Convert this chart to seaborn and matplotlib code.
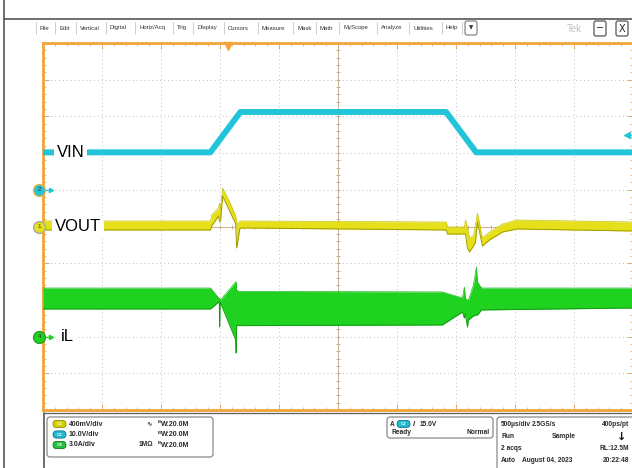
import numpy as np
import matplotlib
matplotlib.use('Agg')
import matplotlib.pyplot as plt
import seaborn as sns
from matplotlib.patches import FancyBboxPatch
from matplotlib.ticker import MultipleLocator

# ---- values ----
# time in microseconds (500 us/div, screen centre = 0)
vin_t = [-2500, -1082, -827, 916, 1171, 2500]
vin_v = [10.2, 10.2, 21.2, 21.2, 10.2, 10.2]          # V  (CH2, 10 V/div)

# VOUT envelope, mV around the channel offset (CH1, 400 mV/div)
vout_t = [-2500, -1080, -1071, -1012, -1003, -995, -978, -918, -867, -859, -850,
          -833, -816, 918, 927, 1071, 1080, 1097, 1114, 1148, 1165, 1182, 1224,
          1284, 1395, 1514, 2500]
vout_hi = [60, 60, 125, 202, 256, 180, 420, 267, 114, 49, 16, 60, 60, 49, -5, -5,
           71, -16, -125, -104, 16, 147, -125, -60, 27, 71, 49]
vout_lo = [-38, -38, 5, 114, 49, 71, 332, 169, 27, -234, -169, -27, -16, -38, -82,
           -82, -82, -234, -278, -213, -169, 49, -213, -147, -60, -27, -49]

# inductor current envelope, A (CH4, 3 A/div)
il_t = [-2500, -1080, -1012, -1006, -1003, -999, -995, -867, -863, -859, -842,
        884, 1054, 1071, 1080, 1097, 1105, 1148, 1173, 1182, 1216, 2500]
il_hi = [3.97, 3.97, 3.16, 3.12, 3.08, 3.08, 3.0, 4.47, 4.47, 3.81, 3.7,
         3.65, 3.16, 4.06, 3.08, 3.0, 3.0, 4.22, 5.69, 4.47, 3.97, 3.97]
il_lo = [2.26, 2.26, 2.83, 2.8, 0.79, 2.78, 2.75, -0.27, -1.34, 0.9, 0.9,
         0.95, 2.01, 1.52, 1.85, 0.79, 1.36, 1.69, 1.77, 1.77, 2.18, 2.34]

trig_t = -930        # horizontal trigger position, us
trig_level = 15.0    # V on CH2

# channel settings: scale per div, position in div
ch1_scale, ch1_pos = 400.0, 0.0
ch2_scale, ch2_pos = 10.0, 1.0
ch4_scale, ch4_pos = 3.0, -3.0

menu_items = ['File', 'Edit', 'Vertical', 'Digital', 'Horiz/Acq', 'Trig', 'Display',
              'Cursors', 'Measure', 'Mask', 'Math', 'MyScope', 'Analyze',
              'Utilities', 'Help']
menu_x = [40, 59, 80, 110, 139, 177, 197, 228, 262, 297, 320, 343, 381, 413, 446]

CYAN = '#22c4d8'
YELLOW = '#e6e01a'
GREEN = '#1fd21f'
ORANGE = '#f2a33a'

sns.set_style('white')
plt.rcParams['font.family'] = ['Liberation Sans', 'DejaVu Sans']

W, H = 632, 468
fig = plt.figure(figsize=(6.32, 4.68), dpi=100)

# overlay in pixel coordinates for the scope window chrome
ov = fig.add_axes([0, 0, 1, 1])
ov.set_xlim(0, W)
ov.set_ylim(H, 0)
ov.axis('off')

ov.plot([4, W], [19, 19], color='#555555', lw=1.2)
ov.plot([4, 4], [0, H], color='#555555', lw=1.2)
ov.plot([44, W], [413, 413], color='#666666', lw=1)
ov.plot([44, 44], [413, H], color='#555555', lw=1.2)

for name, x in zip(menu_items, menu_x):
    ov.text(x, 28, name, fontsize=4.3, color='#333333', va='center', ha='left')
    ov.plot([x - 4, x - 4], [22, 34], color='#c8c8c8', lw=0.6)
ov.plot([462, 462], [22, 34], color='#c8c8c8', lw=0.6)
ov.add_patch(FancyBboxPatch((465, 21), 12, 14, boxstyle='round,pad=0,rounding_size=2',
                            fc='white', ec='#777777', lw=0.8))
ov.text(471, 28, '▼', fontsize=4, ha='center', va='center', color='#333333',
        family='DejaVu Sans')
ov.text(567, 29, 'Tek', fontsize=7, color='#c0c0c0', va='center')
for bx, sym in [(594, '−'), (616, 'X')]:
    ov.add_patch(FancyBboxPatch((bx, 21), 12, 15, boxstyle='round,pad=0,rounding_size=2',
                                fc='white', ec='#555555', lw=0.9))
    ov.text(bx + 6, 28.5, sym, fontsize=7, ha='center', va='center', color='#222222',
            family='DejaVu Sans')

# ---- status panel ----
def badge(x, y, label, fc, ec):
    ov.add_patch(FancyBboxPatch((x, y - 3.6), 13, 7.2,
                                boxstyle='round,pad=0,rounding_size=3.6',
                                fc=fc, ec=ec, lw=0.6))
    ov.text(x + 6.5, y, label, fontsize=3.2, ha='center', va='center',
            color='white', weight='bold')

def stext(x, y, s, ha='left', size=4.8):
    ov.text(x, y, s, fontsize=size, ha=ha, va='center', weight='bold', color='#2a2a2a')

for (x0, y0, w, h) in [(47, 417, 166, 40), (387, 417, 106, 21), (497, 417, 145, 56)]:
    ov.add_patch(FancyBboxPatch((x0, y0), w, h, boxstyle='round,pad=0,rounding_size=3',
                                fc='white', ec='#8a8a8a', lw=0.9))

rows = [424, 434.5, 445]
chans = [('C1', '#d6d000', '#8f8a00', '400mV/div', '∿'),
         ('C2', '#22b8d0', '#137a8a', '10.0V/div', ''),
         ('C4', '#22c040', '#137a22', '3.0A/div', '1MΩ')]
for y, (c, fc, ec, sc, extra) in zip(rows, chans):
    badge(53, y, c, fc, ec)
    stext(69, y, sc, size=5)
    if extra:
        stext(146 if extra == '∿' else 139, y, extra, size=4.8)
    ov.text(158, y - 1.8, 'B', fontsize=3.2, ha='left', va='center', weight='bold',
            color='#2a2a2a')
    stext(161, y + 0.5, 'W:20.0M', size=5)

stext(390, 424, 'A')
badge(397, 424, 'C2', '#22b8d0', '#137a8a')
stext(413, 424, '/', size=6)
stext(420, 424, '{:.1f}V'.format(trig_level))
stext(391, 433, 'Ready')
stext(490, 433, 'Normal', ha='right')

stext(501, 424, '500µs/div')
stext(532, 424, '2.5GS/s')
stext(629, 424, '400ps/pt', ha='right')
stext(501, 436, 'Run')
stext(552, 436, 'Sample')
ov.text(622, 436.5, '↓', fontsize=8, ha='center', va='center', weight='bold',
        color='#111111', family='DejaVu Sans')
stext(501, 448, '2 acqs')
stext(629, 448, 'RL:12.5M', ha='right')
stext(501, 461, 'Auto')
stext(522, 461, 'August 04, 2023')
stext(629, 461, '20:22:48', ha='right')

# ---- graticule ----
ax = fig.add_axes([43 / W, 1 - 410 / H, 590 / W, 367 / H])
ax.set_zorder(2)
ax.set_facecolor('white')
ax.set_xlim(-2500, 2500)
ax.set_ylim(-5, 5)
ax.xaxis.set_major_locator(MultipleLocator(500))
ax.xaxis.set_minor_locator(MultipleLocator(100))
ax.yaxis.set_major_locator(MultipleLocator(1))
ax.yaxis.set_minor_locator(MultipleLocator(0.2))
ax.tick_params(which='both', direction='in', top=True, right=True, bottom=True,
               left=True, labelbottom=False, labelleft=False, color='#d9a060')
ax.tick_params(which='major', length=4, width=0.6)
ax.tick_params(which='minor', length=2, width=0.5)
ax.grid(which='major', ls=(0, (1, 3)), color='#c0c0c0', lw=0.7)
for s in ax.spines.values():
    s.set_color(ORANGE)
    s.set_linewidth(2)

ax.axvline(0, color='#c4a684', lw=0.6, zorder=1)
ax.axhline(0, color='#c4a684', lw=0.6, zorder=1)
ax.plot(np.arange(-2500, 2501, 100), np.zeros(51), ls='none', marker='|', ms=3,
        color='#c4a684', mew=0.6, zorder=1)
ax.plot(np.zeros(51), np.arange(-5, 5.01, 0.2), ls='none', marker='_', ms=3,
        color='#c4a684', mew=0.6, zorder=1)

# ---- traces ----
vin_div = ch2_pos + np.array(vin_v) / ch2_scale
vout_hi_d = ch1_pos + np.array(vout_hi) / ch1_scale
vout_lo_d = ch1_pos + np.array(vout_lo) / ch1_scale
il_hi_d = ch4_pos + np.array(il_hi) / ch4_scale
il_lo_d = ch4_pos + np.array(il_lo) / ch4_scale

ax.fill_between(il_t, il_hi_d, il_lo_d, color=GREEN, lw=0, zorder=3)
sns.lineplot(x=il_t, y=il_lo_d, ax=ax, color='#129a12', lw=0.7, sort=False,
             estimator=None, zorder=3)
sns.lineplot(x=il_t, y=il_hi_d, ax=ax, color='#18b818', lw=0.5, sort=False,
             estimator=None, zorder=3)

ax.fill_between(vout_t, vout_hi_d, vout_lo_d, color=YELLOW, lw=0, zorder=4)
sns.lineplot(x=vout_t, y=vout_lo_d, ax=ax, color='#a09a00', lw=0.7, sort=False,
             estimator=None, zorder=4)
sns.lineplot(x=vout_t, y=vout_hi_d, ax=ax, color='#c8c200', lw=0.5, sort=False,
             estimator=None, zorder=4)

sns.lineplot(x=vin_t, y=vin_div, ax=ax, color=CYAN, lw=4.3, sort=False,
             estimator=None, zorder=5)

# trace labels
lab = dict(fontsize=12, color='black', va='center', ha='left', zorder=6,
           bbox=dict(fc='white', ec='none', pad=2))
ax.text(-2385, vin_div[0], 'VIN', **lab)
ax.text(-2400, ch1_pos, 'VOUT', **lab)
ax.text(-2350, ch4_pos, 'iL', **lab)

# channel ground markers on the left edge
yt = ax.get_yaxis_transform()
for pos, num, fc, ec, arrow in [(ch2_pos, '2', CYAN, '#e0b040', True),
                                (ch1_pos, '1', YELLOW, '#a8a8a8', False),
                                (ch4_pos, '4', GREEN, '#20a020', True)]:
    if arrow:
        ax.plot([-0.002, 0.012], [pos, pos], color=fc, lw=0.9, transform=yt,
                clip_on=False, zorder=7)
        ax.plot(0.013, pos, marker='>', ms=3, color=fc, transform=yt,
                clip_on=False, zorder=7)
    ax.plot(-0.006, pos, marker='o', ms=8.5, mfc=fc, mec=ec, mew=1,
            transform=yt, clip_on=False, zorder=8)
    ax.text(-0.006, pos, num, fontsize=4.5, ha='center', va='center',
            color='#333333', transform=yt, zorder=9, clip_on=False)

# trigger position and level markers
ax.plot(trig_t, 4.93, marker='v', ms=6, color=ORANGE, clip_on=False, zorder=8)
ax.plot(0.99, ch2_pos + trig_level / ch2_scale, marker='<', ms=4, color=CYAN,
        transform=yt, clip_on=False, zorder=8)
ax.plot([0.99, 0.999], [ch2_pos + trig_level / ch2_scale] * 2, color=CYAN, lw=0.9,
        transform=yt, clip_on=False, zorder=8)

ax.set_xlabel('')
ax.set_ylabel('')

plt.savefig('out.png', dpi=100)
